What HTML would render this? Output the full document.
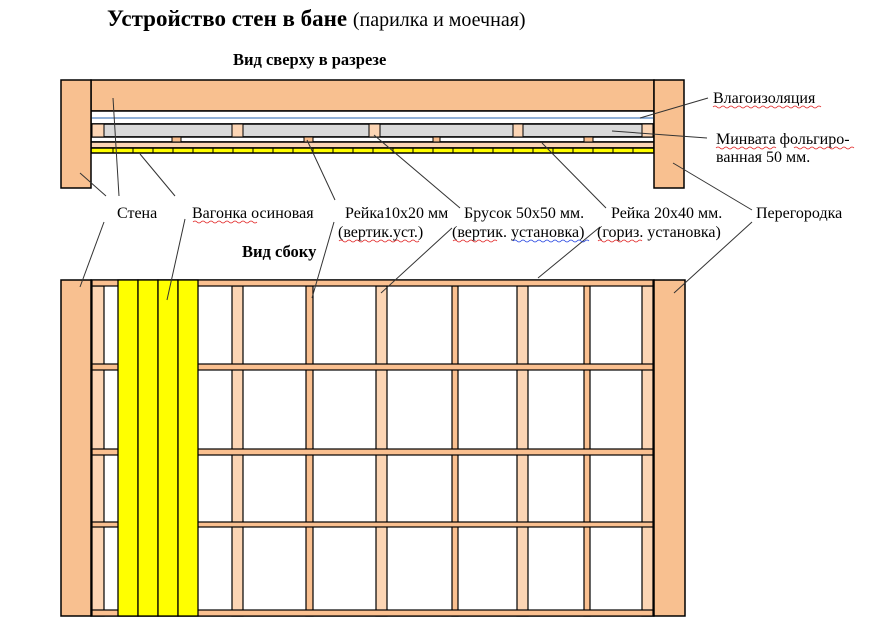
<!DOCTYPE html>
<html><head><meta charset="utf-8"><style>
body{margin:0;background:#fff;}
svg text{font-family:"Liberation Serif",serif;}
</style></head><body>
<svg width="876" height="634" xmlns="http://www.w3.org/2000/svg">
<rect width="876" height="634" fill="#fff"/>
<text x="107" y="26" font-size="23" font-weight="bold">Устройство стен в бане <tspan font-weight="normal" font-size="20">(парилка и моечная)</tspan></text>
<text x="233" y="65" font-size="16.5" font-weight="bold">Вид сверху в разрезе</text>
<text x="242" y="257" font-size="16.5" font-weight="bold">Вид сбоку</text>

<!-- TOP VIEW -->
<g stroke="#000" stroke-width="1.5">
<rect x="91" y="80" width="563" height="31" fill="#f8c090"/>
<rect x="91" y="111" width="563" height="13" fill="#fff"/>
<rect x="91" y="124" width="563" height="13" fill="#d9d9d9"/>
<rect x="91" y="137" width="563" height="5" fill="#fff"/>
<rect x="91" y="142" width="563" height="6" fill="#fcd5b4"/>
<rect x="91" y="148" width="563" height="5" fill="#ffff00"/>
</g>
<line x1="92" y1="118" x2="653" y2="118" stroke="#4f81bd" stroke-width="1.2"/>
<g stroke="#000" stroke-width="1" fill="#fcd5b4">
<rect x="92" y="124" width="12" height="13"/>
<rect x="232" y="124" width="11" height="13"/>
<rect x="369" y="124" width="11" height="13"/>
<rect x="513" y="124" width="10" height="13"/>
<rect x="642" y="124" width="11" height="13"/>
</g>
<g stroke="#000" stroke-width="1" fill="#fac090">
<rect x="172" y="137" width="9" height="5"/>
<rect x="304" y="137" width="9" height="5"/>
<rect x="433" y="137" width="7" height="5"/>
<rect x="584" y="137" width="9" height="5"/>
</g>
<g stroke="#000" stroke-width="1">
<line x1="113" y1="148" x2="113" y2="153"/><line x1="133" y1="148" x2="133" y2="153"/><line x1="153" y1="148" x2="153" y2="153"/><line x1="173" y1="148" x2="173" y2="153"/><line x1="193" y1="148" x2="193" y2="153"/><line x1="213" y1="148" x2="213" y2="153"/><line x1="233" y1="148" x2="233" y2="153"/><line x1="253" y1="148" x2="253" y2="153"/><line x1="273" y1="148" x2="273" y2="153"/><line x1="293" y1="148" x2="293" y2="153"/><line x1="313" y1="148" x2="313" y2="153"/><line x1="333" y1="148" x2="333" y2="153"/><line x1="353" y1="148" x2="353" y2="153"/><line x1="373" y1="148" x2="373" y2="153"/><line x1="393" y1="148" x2="393" y2="153"/><line x1="413" y1="148" x2="413" y2="153"/><line x1="433" y1="148" x2="433" y2="153"/><line x1="453" y1="148" x2="453" y2="153"/><line x1="473" y1="148" x2="473" y2="153"/><line x1="493" y1="148" x2="493" y2="153"/><line x1="513" y1="148" x2="513" y2="153"/><line x1="533" y1="148" x2="533" y2="153"/><line x1="553" y1="148" x2="553" y2="153"/><line x1="573" y1="148" x2="573" y2="153"/><line x1="593" y1="148" x2="593" y2="153"/><line x1="613" y1="148" x2="613" y2="153"/><line x1="633" y1="148" x2="633" y2="153"/>
</g>
<g stroke="#000" stroke-width="1.5" fill="#f8c090">
<rect x="61" y="80" width="30" height="108"/>
<rect x="654" y="80" width="30" height="108"/>
</g>

<!-- SIDE VIEW -->
<g stroke="#000" stroke-width="1.5">
<rect x="91" y="280" width="563" height="336" fill="#fff"/>
</g>
<g stroke="#000" stroke-width="1.2" fill="#fcd5b4">
<rect x="92" y="286" width="12" height="330"/>
<rect x="232" y="286" width="11" height="330"/>
<rect x="376" y="286" width="11" height="330"/>
<rect x="517" y="286" width="11" height="330"/>
<rect x="642" y="286" width="11" height="330"/>
</g>
<g stroke="#000" stroke-width="1.2" fill="#fac090">
<rect x="306" y="286" width="7" height="330"/>
<rect x="452" y="286" width="6" height="330"/>
<rect x="584" y="286" width="6" height="330"/>
</g>
<g stroke="#000" stroke-width="1.2" fill="#fac090">
<rect x="92" y="280" width="561" height="6"/>
<rect x="92" y="364" width="561" height="6"/>
<rect x="92" y="449" width="561" height="6"/>
<rect x="92" y="522" width="561" height="5"/>
<rect x="92" y="610" width="561" height="6"/>
</g>
<g stroke="#000" stroke-width="1.3" fill="#ffff00">
<rect x="118" y="280" width="20" height="336"/>
<rect x="138" y="280" width="20" height="336"/>
<rect x="158" y="280" width="20" height="336"/>
<rect x="178" y="280" width="20" height="336"/>
</g>
<g stroke="#000" stroke-width="1.5" fill="#f8c090">
<rect x="61" y="280" width="30" height="336"/>
<rect x="654" y="280" width="31" height="336"/>
</g>

<!-- leaders -->
<g stroke="#333" stroke-width="1" fill="none">
<line x1="80" y1="173" x2="106" y2="196"/>
<line x1="113" y1="98" x2="119" y2="196"/>
<line x1="104" y1="222" x2="80" y2="287"/>
<line x1="140" y1="154" x2="175" y2="196"/>
<line x1="185" y1="219" x2="167" y2="300"/>
<line x1="307" y1="140" x2="335" y2="200"/>
<line x1="334" y1="222" x2="312" y2="298"/>
<line x1="374" y1="135" x2="460" y2="208"/>
<line x1="452" y1="228" x2="381" y2="293"/>
<line x1="542" y1="143" x2="606" y2="208"/>
<line x1="600" y1="227" x2="538" y2="278"/>
<line x1="673" y1="163" x2="752" y2="210"/>
<line x1="752" y1="222" x2="674" y2="293"/>
<line x1="640" y1="118" x2="708" y2="98"/>
<line x1="612" y1="131" x2="707" y2="138"/>
</g>

<g font-size="16" fill="#000">
<text x="117" y="218">Стена</text>
<text x="192" y="218">Вагонка осиновая</text>
<text x="345" y="218">Рейка10x20 мм</text>
<text x="338" y="237">(вертик.уст.)</text>
<text x="464" y="218">Брусок 50x50 мм.</text>
<text x="452" y="237">(вертик. установка)</text>
<text x="611" y="218">Рейка 20x40 мм.</text>
<text x="597" y="237">(гориз. установка)</text>
<text x="756" y="218">Перегородка</text>
<text x="713" y="103">Влагоизоляция</text>
<text x="716" y="144">Минвата фольгиро-</text>
<text x="716" y="162">ванная 50 мм.</text>
</g>
<g stroke="#e02020" stroke-width="0.8" fill="none">
<path d="M193,222 q2,-2 4,0 t4,0 t4,0 t4,0 t4,0 t4,0 t4,0 t4,0 t4,0 t4,0 t4,0 t4,0 t4,0 t4,0 t4,0 t4,0"/>
<path d="M339,241 q2,-2 4,0 t4,0 t4,0 t4,0 t4,0 t4,0 t4,0 t4,0 t4,0 t4,0 t4,0 t4,0 t4,0 t4,0 t4,0 t4,0 t4,0 t4,0 t4,0 t4,0"/>
<path d="M453,241 q2,-2 4,0 t4,0 t4,0 t4,0 t4,0 t4,0 t4,0 t4,0 t4,0 t4,0 t4,0"/>
<path d="M598,241 q2,-2 4,0 t4,0 t4,0 t4,0 t4,0 t4,0 t4,0 t4,0 t4,0 t4,0 t4,0"/>
<path d="M713,107 q2,-2 4,0 t4,0 t4,0 t4,0 t4,0 t4,0 t4,0 t4,0 t4,0 t4,0 t4,0 t4,0 t4,0 t4,0 t4,0 t4,0 t4,0 t4,0 t4,0 t4,0 t4,0 t4,0 t4,0 t4,0 t4,0 t4,0 t4,0"/>
<path d="M716,148 q2,-2 4,0 t4,0 t4,0 t4,0 t4,0 t4,0 t4,0 t4,0 t4,0 t4,0 t4,0 t4,0 t4,0 t4,0 t4,0"/>
<path d="M794,148 q2,-2 4,0 t4,0 t4,0 t4,0 t4,0 t4,0 t4,0 t4,0 t4,0 t4,0 t4,0 t4,0 t4,0 t4,0 t4,0"/>
</g>
<path d="M513,241 q2,-2 4,0 t4,0 t4,0 t4,0 t4,0 t4,0 t4,0 t4,0 t4,0 t4,0 t4,0 t4,0 t4,0 t4,0 t4,0 t4,0 t4,0 t4,0 t4,0" stroke="#2040e0" stroke-width="0.8" fill="none"/>
</svg>
</body></html>
